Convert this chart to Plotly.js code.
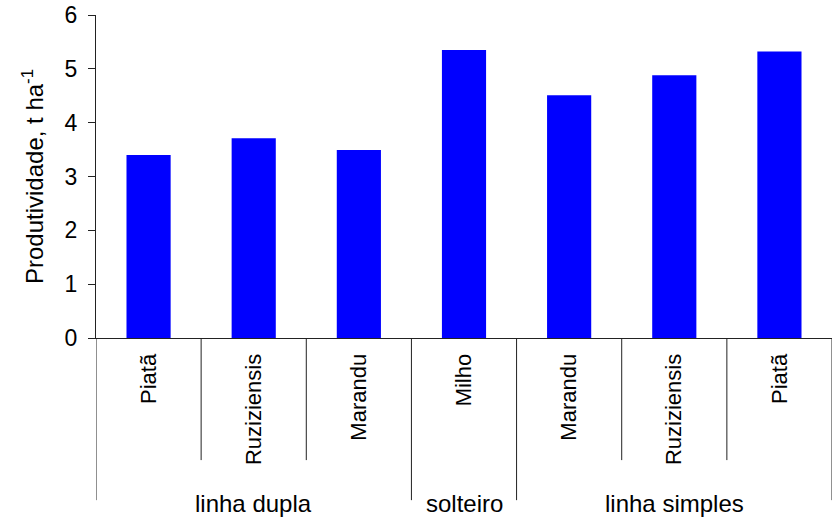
<!DOCTYPE html>
<html>
<head>
<meta charset="utf-8">
<script src="https://cdn.plot.ly/plotly-3.0.1.min.js"></script>
<style>
  html, body { margin: 0; padding: 0; background: #fff; }
  #chart { width: 834px; height: 518px; }
</style>
</head>
<body>
<div id="chart"></div>
<script>
// chart values
var categories = ['Piatã', 'Ruziziensis', 'Marandu', 'Milho', 'Marandu', 'Ruziziensis', 'Piatã'];
var groups = ['linha dupla', 'linha dupla', 'linha dupla', 'solteiro', 'linha simples', 'linha simples', 'linha simples'];
var produtividade = [3.40, 3.71, 3.49, 5.35, 4.51, 4.88, 5.32];
var yTicks = [0, 1, 2, 3, 4, 5, 6];

var font = 'Liberation Sans, Arial, sans-serif';
var idx = categories.map(function (c, i) { return i; });

// divider lines under the axis: short ones inside a group, long ones between groups
var shapes = [];
for (var i = 0; i <= categories.length; i++) {
    var outer = i === 0 || i === categories.length || groups[i] !== groups[i - 1];
    shapes.push({
        type: 'line', xref: 'x', yref: 'paper',
        x0: i - 0.5, x1: i - 0.5,
        y0: 0, y1: outer ? -0.502 : -0.378,
        line: {color: '#222', width: 1}
    });
}

// group labels centred under their categories
var annotations = [];
var start = 0;
for (var j = 1; j <= groups.length; j++) {
    if (j === groups.length || groups[j] !== groups[start]) {
        annotations.push({
            xref: 'x', yref: 'paper',
            x: (start + j - 1) / 2, y: -0.512,
            yanchor: 'middle', showarrow: false,
            text: groups[start],
            font: {family: font, size: 24, color: '#000'}
        });
        start = j;
    }
}

var data = [{
    type: 'bar',
    x: idx,
    y: produtividade,
    marker: {color: '#0000ff'},
    hoverinfo: 'none'
}];

var layout = {
    width: 834,
    height: 518,
    paper_bgcolor: '#fff',
    plot_bgcolor: '#fff',
    margin: {l: 96, r: 2, t: 15, b: 180},
    bargap: 0.58,
    showlegend: false,
    font: {family: font, color: '#000'},
    xaxis: {
        range: [-0.5, categories.length - 0.5],
        tickvals: idx,
        ticktext: categories,
        tickangle: -90,
        ticks: '',
        ticklabelstandoff: 6,
        tickfont: {size: 22, color: '#000'},
        showgrid: false,
        zeroline: false,
        showline: true,
        linecolor: '#222',
        linewidth: 1,
        fixedrange: true
    },
    yaxis: {
        range: [0, 6],
        tickvals: yTicks,
        ticks: 'outside',
        ticklen: 7,
        tickcolor: '#222',
        ticklabelstandoff: 6,
        tickfont: {size: 23, color: '#000'},
        showgrid: false,
        zeroline: false,
        showline: true,
        linecolor: '#222',
        linewidth: 1,
        title: {text: 'Produtividade, t ha<sup>-1</sup>', font: {size: 24, color: '#000'}, standoff: 14},
        fixedrange: true
    },
    shapes: shapes,
    annotations: annotations
};

Plotly.newPlot('chart', data, layout, {displayModeBar: false, staticPlot: true});
</script>
</body>
</html>
